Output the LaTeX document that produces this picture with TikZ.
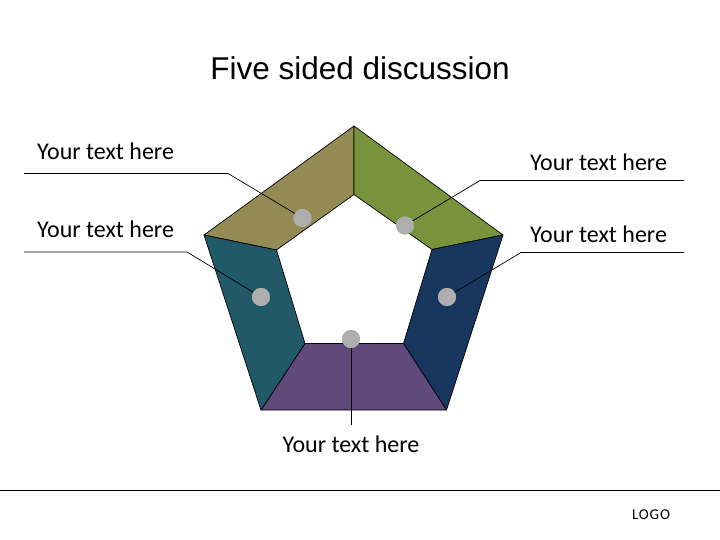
\documentclass[tikz,border=0pt]{standalone}
\usepackage{fontspec}
\setmainfont{Carlito}
\newfontfamily\titlefont{Liberation Sans}
\begin{document}
\begin{tikzpicture}[x=1pt,y=-1pt,
  seg/.style={draw=black,line width=0.7pt,line join=round},
  dot/.style={circle,fill=dotgray,draw=none,minimum size=18pt,inner sep=0pt},
  leader/.style={draw=black,line width=0.7pt},
  lbl/.style={inner sep=0pt,font=\fontsize{24}{28}\selectfont}]
\definecolor{olive}{HTML}{948A54}
\definecolor{grn}{HTML}{77933C}
\definecolor{navy}{HTML}{17375E}
\definecolor{purp}{HTML}{604A7B}
\definecolor{teal}{HTML}{215968}
\definecolor{dotgray}{RGB}{174,174,174}
\useasboundingbox (0,0) rectangle (720,540);
% outer vertices
\coordinate (OT) at (354,126);
\coordinate (OR) at (503,235);
\coordinate (OBR) at (446.5,410);
\coordinate (OBL) at (261,410);
\coordinate (OL) at (204,235);
% inner vertices
\coordinate (IT) at (354,194.5);
\coordinate (IR) at (432,249.5);
\coordinate (IBR) at (403.5,343.5);
\coordinate (IBL) at (305,343.5);
\coordinate (IL) at (276.5,250);
% segments
\path[seg,fill=olive] (OT) -- (OL) -- (IL) -- (IT) -- cycle;
\path[seg,fill=grn] (OT) -- (OR) -- (IR) -- (IT) -- cycle;
\path[seg,fill=navy] (OR) -- (OBR) -- (IBR) -- (IR) -- cycle;
\path[seg,fill=purp] (OBR) -- (OBL) -- (IBL) -- (IBR) -- cycle;
\path[seg,fill=teal] (OBL) -- (OL) -- (IL) -- (IBL) -- cycle;
% title
\node[inner sep=0pt,anchor=base,font=\titlefont\fontsize{31.5}{36}\selectfont] (title) at (360,79.5) {Five sided discussion};
% labels
\node[lbl,anchor=base west] (t1) at (37,159.5) {Your text here};
\node[lbl,anchor=base west] (t2) at (37,237.5) {Your text here};
\node[lbl,anchor=base west] (t3) at (530,170.5) {Your text here};
\node[lbl,anchor=base west] (t4) at (530,243) {Your text here};
\node[lbl,anchor=base] (t5) at (351,452.5) {Your text here};
% leader coordinates
\coordinate (a1) at (24,173.5);
\coordinate (b1) at (228,173.5);
\coordinate (a2) at (24,252);
\coordinate (b2) at (187,252);
\coordinate (a3) at (684,180.5);
\coordinate (b3) at (480,180.5);
\coordinate (a4) at (684,252.5);
\coordinate (b4) at (521,252.5);
\coordinate (b5) at (351,425);
% dots
\node[dot] (d1) at (302.5,218) {};
\node[dot] (d2) at (405,225.5) {};
\node[dot] (d3) at (261,297) {};
\node[dot] (d4) at (447,297) {};
\node[dot] (d5) at (351,339) {};
% leaders
\draw[leader] (a1) -- (b1) -- (d1.center);
\draw[leader] (a2) -- (b2) -- (d3.center);
\draw[leader] (a3) -- (b3) -- (d2.center);
\draw[leader] (a4) -- (b4) -- (d4.center);
\draw[leader] (d5.center) -- (b5);
% redraw dots on top
\node[dot] at (d1) {};
\node[dot] at (d2) {};
\node[dot] at (d3) {};
\node[dot] at (d4) {};
\node[dot] at (d5) {};
% footer
\coordinate (f1) at (0,490);
\coordinate (f2) at (720,490);
\draw[line width=0.9pt] (f1) -- (f2);
\node[inner sep=0pt,anchor=base,font=\addfontfeature{LetterSpace=6}\fontsize{15}{17}\selectfont] (logo) at (651,519.5) {LOGO};
\end{tikzpicture}
\end{document}
